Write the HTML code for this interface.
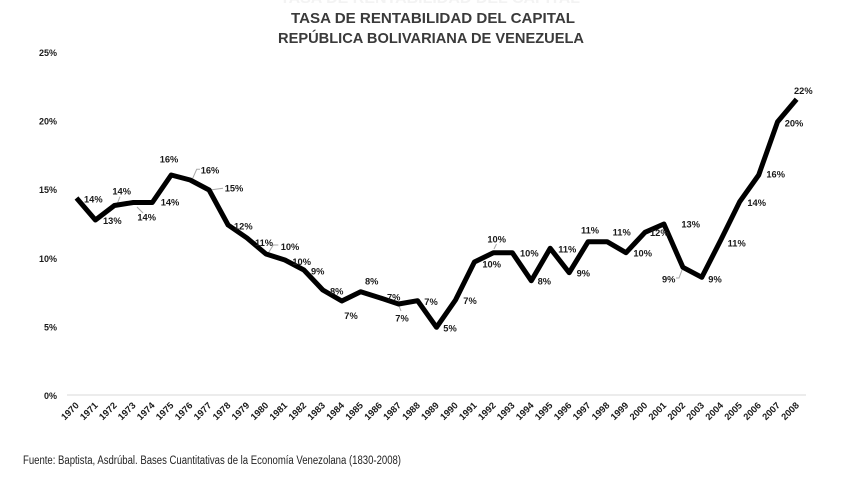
<!DOCTYPE html>
<html>
<head>
<meta charset="utf-8">
<style>
html,body{margin:0;padding:0;background:#fff;}
svg{display:block;}
text{font-family:"Liberation Sans",Arial,sans-serif;}
.t{font-weight:bold;font-size:15px;fill:#3a3a3a;}
.y{font-weight:bold;font-size:9px;fill:#1a1a1a;}
.d{font-weight:bold;font-size:9.3px;fill:#1a1a1a;}
.x{font-weight:bold;font-size:9.3px;fill:#1a1a1a;}
.ld{stroke:#a8a8a8;stroke-width:1;fill:none;}
</style>
</head>
<body>
<svg width="860" height="484" viewBox="0 0 860 484" xmlns="http://www.w3.org/2000/svg">
<rect width="860" height="484" fill="#fff"/>
<!-- faint ghost at top -->
<text x="430" y="3" text-anchor="middle" font-weight="bold" font-size="15" fill="#f3f3f3" textLength="300" lengthAdjust="spacingAndGlyphs">TASA DE RENTABILIDAD DEL CAPITAL</text>
<!-- title -->
<text x="433" y="23" text-anchor="middle" class="t" textLength="284" lengthAdjust="spacingAndGlyphs">TASA DE RENTABILIDAD DEL CAPITAL</text>
<text x="431" y="43" text-anchor="middle" class="t" textLength="306" lengthAdjust="spacingAndGlyphs">REPÚBLICA BOLIVARIANA DE VENEZUELA</text>

<!-- y axis labels -->
<text x="57" y="56" text-anchor="end" class="y">25%</text>
<text x="57" y="124.6" text-anchor="end" class="y">20%</text>
<text x="57" y="193.2" text-anchor="end" class="y">15%</text>
<text x="57" y="261.8" text-anchor="end" class="y">10%</text>
<text x="57" y="330.4" text-anchor="end" class="y">5%</text>
<text x="57" y="399" text-anchor="end" class="y">0%</text>

<!-- axis line -->
<line x1="67" y1="395" x2="806" y2="395" stroke="#d9d9d9" stroke-width="1"/>

<!-- leader lines -->
<polyline class="ld" points="116.7,205 120,196.7"/>
<polyline class="ld" points="137,207 143,213"/>
<polyline class="ld" points="192.7,178.3 196.7,169.3 200,169.3"/>
<polyline class="ld" points="210,190 223,188.3"/>
<polyline class="ld" points="268.3,253 273.3,245 278.3,245"/>
<polyline class="ld" points="398.6,305 401,311"/>
<polyline class="ld" points="494,249 496.5,244"/>
<polyline class="ld" points="682,270 679,278 676,278"/>

<!-- series -->
<polyline fill="none" stroke="#000" stroke-width="5" stroke-linejoin="round" stroke-linecap="butt" points="
76.5,198 95.4,220 114.4,205.5 133.3,202.5 152.3,202.5 171.2,175 190.2,180 209.1,190 228.1,225 247,238
266,254 284.9,260 303.9,270 322.8,290 341.8,301 360.7,291.7 379.7,297.7 398.6,304 417.6,300.7 436.5,327.3
455.5,300 474.4,262 493.4,252.7 512.3,252.7 531.3,280.7 550.2,248.3 569.2,272.7 588.1,241.7 607.1,241.7 626,252.7
645,232.3 663.9,224 682.9,267.3 701.8,277.3 720.8,240 739.7,201.7 758.7,175 777.6,121.7 796.6,99.3"/>

<!-- data labels -->
<g class="d" text-anchor="middle">
<text x="93.3" y="202.5">14%</text>
<text x="112.3" y="224">13%</text>
<text x="121.7" y="194.3">14%</text>
<text x="146.7" y="220.5">14%</text>
<text x="170" y="205.5">14%</text>
<text x="169" y="162.3">16%</text>
<text x="210" y="173.5">16%</text>
<text x="234" y="191.5">15%</text>
<text x="243.3" y="229.3">12%</text>
<text x="264" y="246">11%</text>
<text x="290" y="250">10%</text>
<text x="301.7" y="265">10%</text>
<text x="317.7" y="274.3">9%</text>
<text x="336.7" y="294.3">8%</text>
<text x="351" y="319">7%</text>
<text x="371.7" y="284.3">8%</text>
<text x="393.7" y="300.5">7%</text>
<text x="402" y="321.5">7%</text>
<text x="431" y="305">7%</text>
<text x="450" y="331.5">5%</text>
<text x="470" y="304">7%</text>
<text x="491.7" y="267.3">10%</text>
<text x="496.7" y="242.5">10%</text>
<text x="529.3" y="256.5">10%</text>
<text x="544.3" y="284.3">8%</text>
<text x="567.3" y="252.5">11%</text>
<text x="583.3" y="276.5">9%</text>
<text x="590" y="233.3">11%</text>
<text x="621.7" y="235.5">11%</text>
<text x="642.7" y="256.5">10%</text>
<text x="659.3" y="236">12%</text>
<text x="690.7" y="227.3">13%</text>
<text x="668.7" y="282.5">9%</text>
<text x="715" y="282.5">9%</text>
<text x="736.7" y="246.5">11%</text>
<text x="756.7" y="206">14%</text>
<text x="775.7" y="177.5">16%</text>
<text x="794" y="126.5">20%</text>
<text x="803.3" y="94">22%</text>
</g>

<!-- x labels -->
<g class="x" text-anchor="end">
<text transform="translate(79.5,406) rotate(-45)">1970</text>
<text transform="translate(98.4,406) rotate(-45)">1971</text>
<text transform="translate(117.4,406) rotate(-45)">1972</text>
<text transform="translate(136.3,406) rotate(-45)">1973</text>
<text transform="translate(155.3,406) rotate(-45)">1974</text>
<text transform="translate(174.2,406) rotate(-45)">1975</text>
<text transform="translate(193.2,406) rotate(-45)">1976</text>
<text transform="translate(212.1,406) rotate(-45)">1977</text>
<text transform="translate(231.1,406) rotate(-45)">1978</text>
<text transform="translate(250,406) rotate(-45)">1979</text>
<text transform="translate(269,406) rotate(-45)">1980</text>
<text transform="translate(287.9,406) rotate(-45)">1981</text>
<text transform="translate(306.9,406) rotate(-45)">1982</text>
<text transform="translate(325.8,406) rotate(-45)">1983</text>
<text transform="translate(344.8,406) rotate(-45)">1984</text>
<text transform="translate(363.7,406) rotate(-45)">1985</text>
<text transform="translate(382.7,406) rotate(-45)">1986</text>
<text transform="translate(401.6,406) rotate(-45)">1987</text>
<text transform="translate(420.6,406) rotate(-45)">1988</text>
<text transform="translate(439.5,406) rotate(-45)">1989</text>
<text transform="translate(458.5,406) rotate(-45)">1990</text>
<text transform="translate(477.4,406) rotate(-45)">1991</text>
<text transform="translate(496.4,406) rotate(-45)">1992</text>
<text transform="translate(515.3,406) rotate(-45)">1993</text>
<text transform="translate(534.3,406) rotate(-45)">1994</text>
<text transform="translate(553.2,406) rotate(-45)">1995</text>
<text transform="translate(572.2,406) rotate(-45)">1996</text>
<text transform="translate(591.1,406) rotate(-45)">1997</text>
<text transform="translate(610.1,406) rotate(-45)">1998</text>
<text transform="translate(629,406) rotate(-45)">1999</text>
<text transform="translate(648,406) rotate(-45)">2000</text>
<text transform="translate(666.9,406) rotate(-45)">2001</text>
<text transform="translate(685.9,406) rotate(-45)">2002</text>
<text transform="translate(704.8,406) rotate(-45)">2003</text>
<text transform="translate(723.8,406) rotate(-45)">2004</text>
<text transform="translate(742.7,406) rotate(-45)">2005</text>
<text transform="translate(761.7,406) rotate(-45)">2006</text>
<text transform="translate(780.6,406) rotate(-45)">2007</text>
<text transform="translate(799.6,406) rotate(-45)">2008</text>
</g>

<!-- footer -->
<text x="23" y="464" font-size="11.5" fill="#222" textLength="378" lengthAdjust="spacingAndGlyphs">Fuente:  Baptista, Asdrúbal. Bases Cuantitativas de la Economía Venezolana (1830-2008)</text>
</svg>
</body>
</html>
